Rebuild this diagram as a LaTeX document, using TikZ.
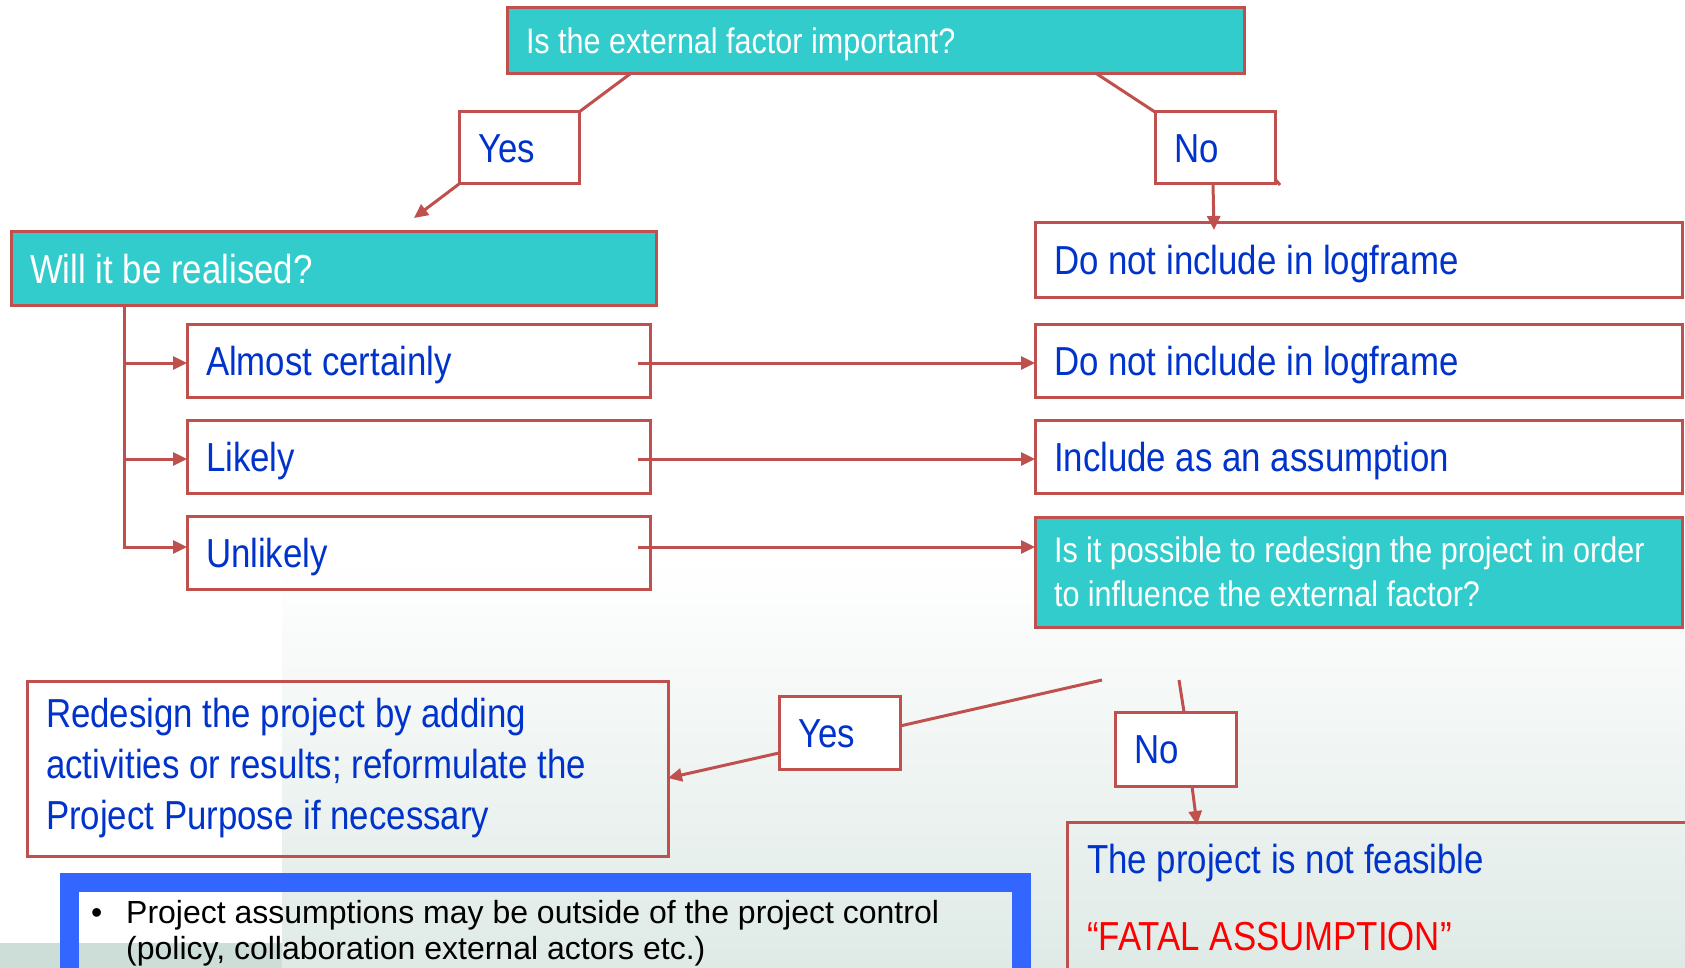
\documentclass[tikz,border=0pt]{standalone}
\usepackage{fontspec}
\setmainfont{Liberation Sans}
\newfontfamily\narrowsans{Liberation Sans}[FakeStretch=0.86]
\usetikzlibrary{arrows.meta,calc}
\definecolor{qfill}{HTML}{33CCCC}
\definecolor{brd}{HTML}{C0504D}
\definecolor{ink}{HTML}{0033CC}
\definecolor{frame}{HTML}{3366FF}
\definecolor{fatalred}{HTML}{FF0000}
\definecolor{bgbottom}{HTML}{DFEAE6}
\definecolor{band}{HTML}{CCDED7}

\begin{document}
\begin{tikzpicture}[x=1pt,y=-1pt,
  big/.style={font=\narrowsans\fontsize{40.5pt}{51pt}\selectfont},
  mid/.style={font=\narrowsans\fontsize{35.5pt}{44pt}\selectfont},
  box/.style={draw=brd, line width=3pt, outer sep=0pt, anchor=north west,
    inner xsep=19pt, inner ysep=0pt, align=flush left, text=ink, big,
    execute at begin node={\spaceskip=0pt\xspaceskip=0pt\relax}},
  qbox/.style={box, fill=qfill, text=white},
  oneline/.style={text height=29pt, text depth=0pt},
  lbl/.style={box, fill=white, oneline, minimum width=120pt,
    minimum height=72pt, text width=82pt},
  link/.style={draw=brd, line width=3pt},
  arr/.style={link, -{Triangle[length=14pt,width=13pt]}},
  plain/.style={anchor=base west, inner sep=0pt},
  note/.style={plain, font=\fontsize{32pt}{36pt}\selectfont},
]
\useasboundingbox (0,0) rectangle (1685,968);

% page background
\fill[white] (0,0) rectangle (1685,968);
\shade[top color=white, bottom color=bgbottom] (282,560) rectangle (1685,968);
\fill[band] (0,943) rectangle (282,968);

% first question and its answers
\node[qbox, mid, text height=25.5pt, text depth=0pt, minimum width=737pt,
  minimum height=66pt, text width=699pt] (q1) at (507,8)
  {Is the external factor important?};
\node[lbl] (yes1) at (459,112) {Yes};
\node[lbl] (no1) at (1155,112) {No};

% second question
\node[qbox, oneline, minimum width=645pt, minimum height=73pt,
  text width=607pt] (q2) at (11,232) {Will it be realised?};

% likelihood boxes
\node[box, oneline, minimum width=463pt, minimum height=73pt,
  text width=425pt] (ac) at (187,324) {Almost certainly};
\node[box, oneline, minimum width=463pt, minimum height=73pt,
  text width=425pt] (lk) at (187,420) {Likely};
\node[box, oneline, minimum width=463pt, minimum height=73pt,
  text width=425pt] (ul) at (187,516) {Unlikely};

% outcomes
\node[box, oneline, minimum width=647pt, minimum height=74pt,
  text width=609pt] (dn1) at (1035,223) {Do not include in logframe};
\node[box, oneline, minimum width=647pt, minimum height=73pt,
  text width=609pt] (dn2) at (1035,324) {Do not include in logframe};
\node[box, oneline, minimum width=647pt, minimum height=73pt,
  text width=609pt] (ia) at (1035,420) {Include as an assumption};
\node[qbox, mid, minimum width=647pt, minimum height=110pt,
  text width=609pt] (q3) at (1035,517)
  {\mbox{Is it possible to redesign the project in order}\\\mbox{to influence the external factor?}};

% redesign branch
\node[box, minimum width=641pt, minimum height=175pt, text width=603pt] (rd)
  at (27,681)
  {\mbox{Redesign the project by adding}\\\mbox{activities or results; reformulate the}\\\mbox{Project Purpose if necessary}};
\node[lbl, minimum width=121pt, minimum height=73pt] (yes2) at (779,696) {Yes};
\node[lbl, minimum width=121pt, minimum height=74pt] (no2) at (1115,712) {No};

% not feasible
\node[box, minimum width=700pt, minimum height=200pt] (fatal) at (1067,822) {};
\node[plain, text=ink, big] (feas) at (1087,873) {The project is not feasible};
\node[plain, text=fatalred, big] (fa) at (1087,950) {“FATAL ASSUMPTION”};

% note frame
\node[draw=frame, line width=19pt, outer sep=0pt, anchor=north west,
  inner sep=0pt, minimum width=952pt, minimum height=200pt] (nframe)
  at (69.5,882.5) {};
\node[note] (bul) at (91,923) {•};
\node[note] (nt1) at (126,923)
  {Project assumptions may be outside of the project control};
\node[note] (nt2) at (126,959)
  {(policy, collaboration external actors etc.)};

% connectors from the first question
\draw[link] ([xshift=123pt]q1.south west) -- (yes1.north east);
\draw[arr] (yes1.south west) -- ([xshift=403pt,yshift=14pt]q2.north west);
\draw[link] ([xshift=-147pt]q1.south east) -- (no1.north west);
\draw[link] ([yshift=5pt]no1.south east) -- ++(5,6);
\draw[arr] ([xshift=58pt]no1.south west) -- ([xshift=179pt,yshift=-7pt]dn1.north west);

% trunk below the second question
\coordinate (tr0) at ([xshift=113pt]q2.south west);
\coordinate (t1) at (124,363);
\coordinate (t2) at (124,459);
\coordinate (t3) at (124,547);
\draw[arr] (tr0) |- (t3 -| ul.west);
\draw[arr] (t1) -- (t1 -| ac.west);
\draw[arr] (t2) -- (t2 -| lk.west);

% likelihood to outcome
\draw[arr] ($(t1 -| ac.east)+(-12,0)$) -- (t1 -| dn2.west);
\draw[arr] ($(t2 -| lk.east)+(-12,0)$) -- (t2 -| ia.west);
\draw[arr] ($(t3 -| ul.east)+(-12,0)$) -- (t3 -| q3.west);

% answers to the third question
\coordinate (sy) at (1102,680);
\coordinate (sn) at (1179,680);
\draw[link] (sy) -- ($(yes2.north east)+(0,30)$);
\draw[arr] ($(yes2.south west)+(0,-16)$) -- ($(rd.north east)+(0,97)$);
\draw[link] (sn) -- ($(no2.north west)+(69,0)$);
\draw[arr] ($(no2.south west)+(77,0)$) -- ($(fatal.north west)+(130,3)$);
\end{tikzpicture}
\end{document}
